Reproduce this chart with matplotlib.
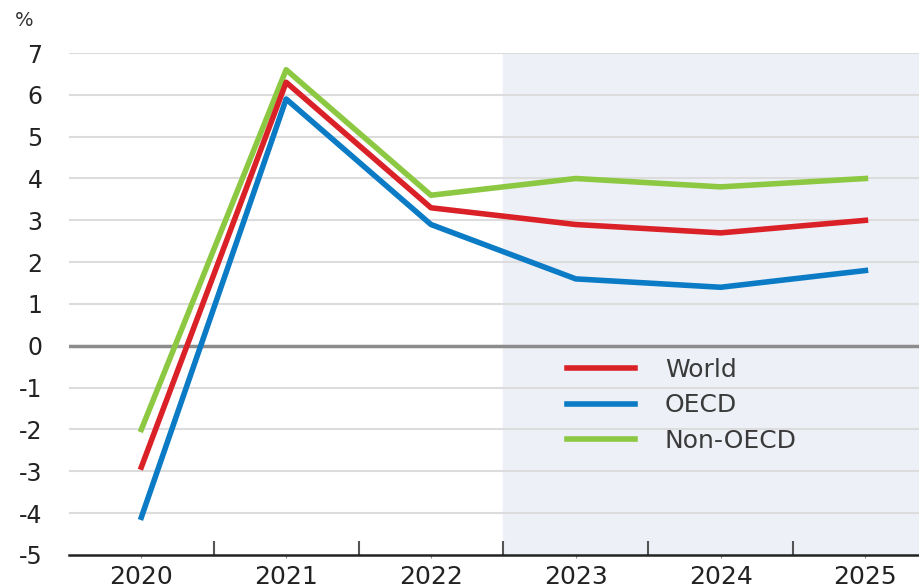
import numpy as np
import matplotlib.pyplot as plt

plt.rcParams['font.family'] = ['DejaVu Sans']
plt.rcParams['axes.unicode_minus'] = False

# Dados (taxa de crescimento, %)
anos = [2020, 2021, 2022, 2023, 2024, 2025]
world = [-2.9, 6.3, 3.3, 2.9, 2.7, 3.0]
oecd = [-4.1, 5.9, 2.9, 1.6, 1.4, 1.8]
non_oecd = [-2.0, 6.6, 3.6, 4.0, 3.8, 4.0]
inicio_projecao = 2022.5

fig = plt.figure(figsize=(9.19, 5.85), dpi=100)
ax = fig.add_axes([0.075, 0.0513, 0.925, 0.8581])

# Área de projeção
ax.axvspan(inicio_projecao, 2030, color='#edf0f7', zorder=0)

# Grade horizontal
for v in range(-4, 8):
    ax.axhline(v, color='#dcdcdc', lw=1.5, zorder=1)
ax.axhline(0, color='#8c8c8c', lw=2.5, zorder=2)

ax.plot(anos, world, color='#da2128', lw=4, label='World', zorder=4)
ax.plot(anos, oecd, color='#0a7bc4', lw=4, label='OECD', zorder=3)
ax.plot(anos, non_oecd, color='#8cc841', lw=4, label='Non-OECD', zorder=3)

ax.set_xlim(2019.5, 2025.37)
ax.set_ylim(-5, 7)
ax.set_yticks(range(-5, 8))
ax.set_xticks(anos)
ax.set_xticks([a + 0.5 for a in anos[:-1]], minor=True)

for s in ['top', 'right', 'left']:
    ax.spines[s].set_visible(False)
ax.spines['bottom'].set_color('#222222')
ax.spines['bottom'].set_linewidth(1.8)

ax.tick_params(axis='y', length=0, labelsize=17, labelcolor='#222222', pad=19)
ax.tick_params(axis='x', which='major', length=2, color='#888888', labelsize=18,
               labelcolor='#222222', pad=5)
ax.tick_params(axis='x', which='minor', direction='in', length=10, width=1.5, color='#555555')

fig.text(0.016, 0.955, '%', fontsize=14, color='#333333')

leg = ax.legend(loc='upper left', bbox_to_anchor=(0.56, 0.438), frameon=False,
                fontsize=18, handlelength=2.7, handletextpad=1.2, labelspacing=0.47)
for t in leg.get_texts():
    t.set_color('#3a3a3a')

plt.savefig('out.png', dpi=100)
